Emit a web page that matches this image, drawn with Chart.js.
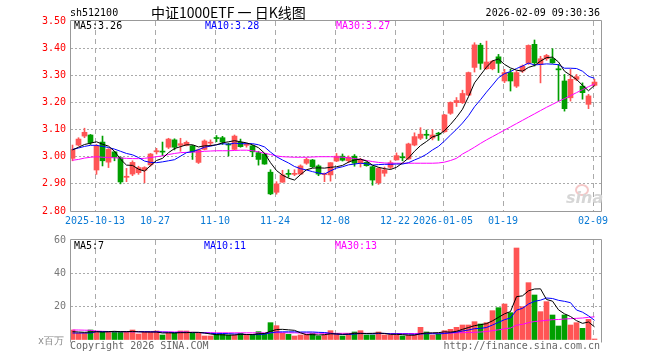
<!DOCTYPE html>
<html>
<head>
<meta charset="utf-8">
<script src="https://cdn.jsdelivr.net/npm/chart.js@4"></script>
<style>
  body { margin: 0; background: #fff; }
  #wrap { position: relative; width: 660px; height: 360px; overflow: hidden;
          font-family: "DejaVu Sans Mono", monospace; font-size: 10px; }
  canvas { position: absolute; left: 0; top: 0; }
  .t { position: absolute; white-space: nowrap; line-height: 12px; }
</style>
</head>
<body>
<div id="wrap">
  <canvas id="kline" width="660" height="360"></canvas>
  <canvas id="vol" width="660" height="360"></canvas>

  <div class="t" style="left:70px;top:7px">sh512100</div>
  <div class="t" style="left:151px;top:3px;font-family:'Noto Sans CJK SC';font-size:14px;line-height:18px">中证1000ETF 一 日K线图</div>
  <div class="t" style="right:60px;top:7px">2026-02-09 09:30:36</div>

  <div class="t" style="left:74px;top:20px;color:#000">MA5:3.26</div>
  <div class="t" style="left:205px;top:20px;color:#00f">MA10:3.28</div>
  <div class="t" style="left:336px;top:20px;color:#f0f">MA30:3.27</div>

  <div class="t" style="left:74px;top:240px;color:#000">MA5:7</div>
  <div class="t" style="left:204px;top:240px;color:#00f">MA10:11</div>
  <div class="t" style="left:335px;top:240px;color:#f0f">MA30:13</div>

  <div class="t" style="left:38px;top:335px;color:#888">x百万</div>
  <div class="t" style="left:70px;top:340px;color:#666">Copyright 2026 SINA.COM</div>
  <div class="t" style="right:60px;top:340px;color:#666">http://finance.sina.com.cn</div>

  <div style="position:absolute;left:575px;top:184px;width:10px;height:8px;border:2px solid #f4c8c8;border-radius:50%"></div>
  <div class="t" style="left:566px;top:190px;font:italic bold 16px 'DejaVu Sans';color:#d6d6d6;line-height:16px">sina</div>
</div>

<script>
// daily candles, 2025-09-29 .. 2026-02-09
const open  = [2.994,3.043,3.076,3.080,2.951,3.054,2.980,3.018,2.996,2.924,2.936,2.941,2.950,2.970,3.018,3.020,3.035,3.062,3.042,3.042,
               3.040,2.979,3.027,3.050,3.070,3.070,3.045,3.027,3.053,3.042,3.040,3.015,3.010,2.943,2.869,2.906,2.938,2.935,2.936,2.976,
               2.988,2.966,2.934,2.933,2.984,3.002,2.985,3.002,2.976,2.979,2.963,2.904,2.939,2.961,2.988,2.998,2.992,3.043,3.068,3.082,
               3.069,3.086,3.092,3.160,3.199,3.199,3.227,3.329,3.411,3.324,3.324,3.368,3.279,3.310,3.260,3.316,3.344,3.414,3.340,3.361,
               3.361,3.324,3.279,3.217,3.285,3.260,3.193,3.263];
const high  = [3.043,3.070,3.105,3.082,3.045,3.076,3.030,3.020,3.000,2.957,2.985,2.965,2.963,3.012,3.031,3.054,3.068,3.066,3.068,3.058,
               3.042,3.028,3.062,3.062,3.078,3.075,3.050,3.080,3.065,3.050,3.042,3.020,3.012,2.952,2.908,2.950,2.952,2.952,2.970,2.995,
               2.990,2.970,2.940,2.978,3.012,3.010,3.003,3.008,2.994,2.981,2.965,2.960,2.962,2.985,3.014,3.014,3.050,3.088,3.107,3.098,
               3.100,3.090,3.156,3.202,3.218,3.245,3.312,3.420,3.418,3.426,3.355,3.377,3.322,3.322,3.316,3.338,3.412,3.430,3.370,3.377,
               3.398,3.340,3.303,3.322,3.303,3.272,3.230,3.285];
const low   = [2.985,3.040,3.070,3.045,2.935,2.966,2.960,2.985,2.900,2.908,2.930,2.935,2.904,2.965,3.010,3.004,3.030,3.025,3.020,3.040,
               2.990,2.975,3.025,3.040,3.055,3.045,3.003,3.025,3.035,3.035,3.000,2.969,2.972,2.860,2.862,2.906,2.924,2.930,2.934,2.972,
               2.960,2.930,2.908,2.910,2.982,2.984,2.978,2.965,2.962,2.965,2.895,2.898,2.928,2.955,2.988,2.985,2.990,3.040,3.063,3.066,
               3.062,3.060,3.090,3.156,3.185,3.196,3.225,3.312,3.322,3.322,3.320,3.310,3.273,3.242,3.255,3.310,3.340,3.334,3.272,3.355,
               3.344,3.205,3.168,3.205,3.280,3.212,3.177,3.260];
const close = [3.027,3.065,3.090,3.052,3.040,2.985,3.027,2.998,2.907,2.928,2.979,2.960,2.960,3.010,3.022,3.017,3.065,3.035,3.048,3.053,
               3.018,3.025,3.058,3.053,3.067,3.054,3.043,3.076,3.037,3.045,3.018,2.990,2.973,2.863,2.900,2.933,2.935,2.938,2.966,2.990,
               2.963,2.936,2.937,2.978,3.002,2.987,2.998,2.976,2.990,2.967,2.914,2.957,2.951,2.978,3.004,2.996,3.047,3.074,3.083,3.079,
               3.080,3.083,3.154,3.200,3.207,3.233,3.310,3.412,3.344,3.349,3.352,3.344,3.310,3.279,3.310,3.334,3.410,3.346,3.361,3.373,
               3.346,3.320,3.177,3.285,3.295,3.236,3.224,3.275];

const ma5   = [3.025,3.035,3.045,3.050,3.055,3.046,3.039,3.020,2.991,2.969,2.968,2.954,2.947,2.967,2.986,2.994,3.015,3.030,3.037,3.044,
               3.044,3.036,3.040,3.041,3.044,3.051,3.055,3.059,3.055,3.051,3.044,3.033,3.013,2.978,2.949,2.932,2.921,2.914,2.934,2.952,
               2.958,2.959,2.958,2.961,2.963,2.968,2.980,2.988,2.991,2.984,2.969,2.961,2.956,2.953,2.961,2.977,2.995,3.020,3.041,3.056,
               3.073,3.080,3.096,3.119,3.145,3.175,3.221,3.272,3.301,3.330,3.353,3.360,3.340,3.327,3.319,3.315,3.329,3.336,3.352,3.365,
               3.367,3.349,3.315,3.300,3.285,3.263,3.243,3.263];
const ma10  = [3.027,3.032,3.038,3.042,3.042,3.038,3.034,3.028,3.020,3.012,3.007,2.997,2.984,2.979,2.978,2.981,2.985,2.989,3.002,3.015,
               3.019,3.026,3.035,3.039,3.044,3.048,3.046,3.050,3.048,3.048,3.048,3.044,3.036,3.017,3.000,2.988,2.977,2.964,2.956,2.951,
               2.945,2.940,2.936,2.948,2.958,2.963,2.970,2.973,2.976,2.974,2.969,2.971,2.972,2.972,2.973,2.973,2.978,2.988,2.997,3.009,
               3.025,3.038,3.058,3.080,3.101,3.124,3.151,3.184,3.210,3.238,3.264,3.291,3.306,3.314,3.325,3.334,3.345,3.338,3.340,3.342,
               3.341,3.339,3.326,3.326,3.325,3.315,3.296,3.289];
const ma30  = [2.987,2.990,2.995,2.998,3.000,2.998,2.997,2.996,2.995,2.994,2.993,2.993,2.994,2.997,3.000,3.003,3.008,3.012,3.015,3.016,
               3.017,3.018,3.020,3.021,3.022,3.022,3.022,3.023,3.024,3.024,3.022,3.018,3.013,3.008,3.003,3.000,2.999,2.998,2.998,2.998,
               2.999,3.000,3.000,3.000,2.999,2.998,2.996,2.993,2.990,2.986,2.982,2.979,2.977,2.976,2.976,2.976,2.976,2.976,2.976,2.976,
               2.976,2.977,2.980,2.986,2.994,3.010,3.022,3.035,3.049,3.062,3.074,3.086,3.098,3.110,3.122,3.134,3.146,3.158,3.170,3.182,
               3.193,3.204,3.214,3.225,3.236,3.247,3.258,3.268];

// volume, millions
const volume = [6,4,4,6,5,5,5,5,5,5,6,3.6,4.6,4.6,5.4,3,4,4,5.4,5.4,
                4,4,2.4,2.4,3.4,3.4,3,3,4,3,3.4,5,4,10.4,8.6,4,3.4,2.4,3,3.4,
                4,2.4,3,5.6,3.6,2.4,3.6,4.8,5.6,3,3,4.8,3,3,3,2.4,3,3,7.6,4.8,
                3,3.6,5.6,6.4,7.6,9,9,11,9.6,10.4,17.6,19.4,21.6,16.4,55.2,20,34.4,27,17,23,
                15,8.4,15,9,10.4,7,12.4,0.6];
const vma5  = [5.0,4.8,4.6,4.8,5.0,4.8,5.0,5.2,5.0,5.0,5.2,4.9,4.8,4.8,4.8,4.2,4.3,4.2,4.4,4.4,
               4.6,4.6,4.2,3.6,3.2,3.1,2.9,3.0,3.4,3.3,3.3,3.7,3.9,5.2,6.3,6.4,6.1,5.8,4.3,3.2,
               3.2,3.0,3.2,3.7,3.7,3.4,3.6,4.0,4.0,3.9,4.0,4.2,3.9,3.4,3.4,3.2,2.9,2.9,3.8,4.2,
               4.3,4.4,4.9,4.7,5.2,6.4,7.5,8.6,9.2,9.8,11.5,13.6,15.7,17.1,26.0,26.5,29.5,30.6,30.7,24.3,
               23.3,18.1,15.7,14.1,11.6,10.0,10.8,7.9];
const vma10 = [4.2,4.2,4.2,4.2,5.0,5.0,5.0,5.0,5.0,5.0,5.0,5.0,5.0,4.9,4.9,4.7,4.6,4.5,4.6,4.6,
               4.4,4.5,4.2,4.0,3.8,3.9,3.8,3.6,3.5,3.3,3.2,3.3,3.5,4.3,4.8,4.9,4.9,4.9,4.8,4.8,
               4.8,4.6,4.5,4.0,3.5,3.3,3.3,3.6,3.9,3.8,3.7,3.9,4.0,3.7,3.7,3.6,3.6,3.4,3.6,3.8,
               3.8,3.7,3.9,4.3,4.7,5.4,6.0,6.8,7.0,7.5,9.0,10.6,12.2,13.2,17.9,19.0,21.6,23.2,23.9,25.2,
               24.9,23.8,23.2,22.4,18.0,16.7,14.5,11.8];
const vma30 = [6.0,6.0,5.9,5.8,5.4,5.2,5.1,5.0,5.0,5.0,5.0,5.0,5.0,5.0,5.0,4.9,4.9,4.8,4.8,4.7,
               4.6,4.5,4.4,4.4,4.3,4.3,4.3,4.3,4.3,4.3,4.3,4.3,4.3,4.4,4.4,4.4,4.3,4.3,4.2,4.2,
               4.1,4.1,4.0,4.0,4.0,4.0,4.0,4.0,4.0,4.0,3.9,3.9,3.9,3.9,3.9,3.9,3.9,3.9,4.0,4.0,
               4.0,4.1,4.2,4.2,4.3,4.4,4.5,4.6,4.8,5.1,5.6,6.1,6.7,7.2,8.9,9.4,10.4,11.1,11.4,11.8,
               12.2,12.3,12.6,12.8,13.0,13.2,13.6,13.9];

// date ticks (candle index -> label)
const tickPos    = [4, 14, 24, 34, 44, 54, 62, 72, 87];
const tickLabels = ['2025-10-13','10-27','11-10','11-24','12-08','12-22','2026-01-05','01-19','02-09'];
const priceTicks = [2.8, 2.9, 3.0, 3.1, 3.2, 3.3, 3.4, 3.5];
const volTicks   = [0, 20, 40, 60];

const RED = '#ff5555', GREEN = '#009f00';
const MONO = { family: 'DejaVu Sans Mono', size: 10 };
const X_MIN = -0.25, X_MAX = -0.25 + 530 / 6;   // 6px per day

const idx = close.map((c, i) => i);
const colors = idx.map(i => close[i] > open[i] ? RED : GREEN);
const pts = arr => arr.map((v, i) => ({ x: i, y: v }));

// gray frame around the plot area
const frame = {
  id: 'frame',
  afterDraw(chart, args, opts) {
    const a = chart.chartArea, ctx = chart.ctx;
    const l = Math.round(a.left) - 0.5, t = Math.round(a.top) - 0.5;
    const r = Math.round(a.right) + 0.5, b = Math.round(a.bottom) + 0.5;
    ctx.save();
    ctx.strokeStyle = '#999';
    ctx.lineWidth = 1;
    ctx.beginPath();
    ctx.moveTo(l, opts.bottom ? b : b + 2);
    ctx.lineTo(l, t);
    ctx.lineTo(r, t);
    ctx.lineTo(r, opts.bottom ? b : b + 2);
    if (opts.bottom) ctx.lineTo(l, b);
    ctx.stroke();
    ctx.restore();
  }
};

function xAxis(labels, h) {
  return {
    type: 'linear', min: X_MIN, max: X_MAX, offset: false,
    afterBuildTicks: s => { s.ticks = tickPos.map(p => ({ value: p - 0.25 })); },
    afterFit: s => { s.height = h; },
    ticks: { display: labels, autoSkip: false, maxRotation: 0, padding: 4, color: '#0a7ad5', font: MONO,
             callback: (v, i) => tickLabels[i] },
    grid: { offset: false, drawTicks: false, color: '#aaa' },
    border: { display: false, dash: [5, 4] }
  };
}

function line(data, color) {
  return { type: 'line', data: pts(data), borderColor: color, borderWidth: 1, pointRadius: 0,
           fill: false, tension: 0, order: 0 };
}

new Chart(document.getElementById('kline'), {
  type: 'bar',
  data: {
    datasets: [
      { data: idx.map(i => ({ x: i, y: [low[i], high[i]] })), backgroundColor: colors,
        barThickness: 1, maxBarThickness: 1, grouped: false, order: 2 },
      { data: idx.map(i => ({ x: i, y: [open[i], close[i]] })), backgroundColor: colors,
        barThickness: 5, maxBarThickness: 5, minBarLength: 1, grouped: false, order: 1 },
      line(ma5, '#000'),
      line(ma10, '#00f'),
      line(ma30, '#f0f')
    ]
  },
  options: {
    responsive: false, animation: false, events: [],
    layout: { padding: { left: 0, top: 21, right: 59, bottom: 0 } },
    plugins: { legend: { display: false }, tooltip: { enabled: false }, frame: { bottom: true } },
    scales: {
      x: xAxis(true, 149),
      y: {
        min: 2.8, max: 3.5,
        afterBuildTicks: s => { s.ticks = priceTicks.map(v => ({ value: v })); },
        afterFit: s => { s.width = 71; },
        ticks: { color: '#f00', padding: 5, font: MONO, callback: v => v.toFixed(2) },
        grid: { drawTicks: false,
                color: c => (c.tick && (c.tick.value < 2.85 || c.tick.value > 3.45)) ? 'rgba(0,0,0,0)' : '#aaa' },
        border: { display: false, dash: [2, 2] }
      }
    }
  },
  plugins: [frame]
});

new Chart(document.getElementById('vol'), {
  type: 'bar',
  data: {
    datasets: [
      { data: pts(volume), backgroundColor: colors, barThickness: 5, maxBarThickness: 5,
        grouped: false, order: 1 },
      line(vma5, '#000'),
      line(vma10, '#00f'),
      line(vma30, '#f0f')
    ]
  },
  options: {
    responsive: false, animation: false, events: [],
    layout: { padding: { left: 0, top: 240, right: 59, bottom: 0 } },
    plugins: { legend: { display: false }, tooltip: { enabled: false }, frame: { bottom: false } },
    scales: {
      x: xAxis(false, 20),
      y: {
        min: 0, max: 60,
        afterBuildTicks: s => { s.ticks = volTicks.map(v => ({ value: v })); },
        afterFit: s => { s.width = 71; },
        ticks: { color: '#777', padding: 5, font: MONO, callback: v => v === 0 ? '' : String(v) },
        grid: { drawTicks: false,
                color: c => (c.tick && (c.tick.value === 0 || c.tick.value === 60)) ? 'rgba(0,0,0,0)' : '#aaa' },
        border: { display: false, dash: [2, 2] }
      }
    }
  },
  plugins: [frame]
});
</script>
</body>
</html>
